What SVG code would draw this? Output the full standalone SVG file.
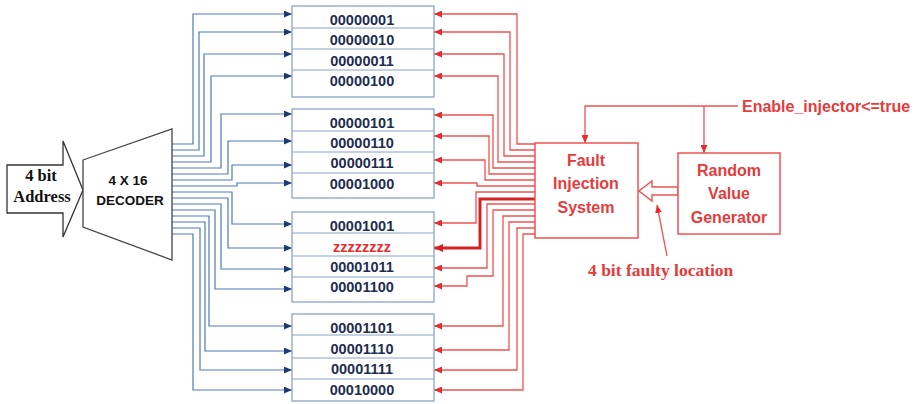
<svg xmlns="http://www.w3.org/2000/svg" width="918" height="404" viewBox="0 0 918 404">
<style>
.mem{fill:#fff;stroke:#8aa4cc;stroke-width:1.3}
.sep{stroke:#8aa4cc;stroke-width:1.2}
.val{font-family:"Liberation Sans",Arial,sans-serif;font-weight:bold;font-size:14.5px;fill:#1f2d4e;text-anchor:middle}
.bl{fill:none;stroke:#4f7ab8;stroke-width:1.2;marker-end:url(#ab)}
.rd{fill:none;stroke:#f05252;stroke-width:1.3;marker-end:url(#ar)}
.rdk{fill:none;stroke:#d42222;stroke-width:3;marker-end:url(#ar2)}
.rbox{fill:#fff;stroke:#f05252;stroke-width:1.5}
.rtxt{font-family:"Liberation Sans",Arial,sans-serif;font-weight:bold;font-size:16px;fill:#e63b3b;text-anchor:middle}
.blk{font-family:"Liberation Sans",Arial,sans-serif;font-weight:bold;font-size:13.5px;fill:#111;text-anchor:middle}
.ser{font-family:"Liberation Serif","Times New Roman",serif;font-weight:bold}
</style>
<defs>
<marker id="ab" markerUnits="userSpaceOnUse" markerWidth="8" markerHeight="7" refX="8" refY="3.5" orient="auto"><path d="M0,0 L8,3.5 L0,7 z" fill="#1f3a6e"/></marker>
<marker id="ar" markerUnits="userSpaceOnUse" markerWidth="8" markerHeight="7" refX="8" refY="3.5" orient="auto"><path d="M0,0 L8,3.5 L0,7 z" fill="#e62e2e"/></marker>
<marker id="ar2" markerUnits="userSpaceOnUse" markerWidth="9" markerHeight="8" refX="9" refY="4" orient="auto"><path d="M0,0 L9,4 L0,8 z" fill="#d42222"/></marker>
</defs>
<rect width="918" height="404" fill="#fff"/>

<g id="connectors">
<g id="blue">
<path class="bl" d="M172,144 H193 V14 H292"/>
<path class="bl" d="M172,150 H199 V32 H292"/>
<path class="bl" d="M172,156 H204 V54 H292"/>
<path class="bl" d="M172,162 H211 V76 H292"/>
<path class="bl" d="M172,168 H221 V114 H292"/>
<path class="bl" d="M172,174 H228 V141 H292"/>
<path class="bl" d="M172,180 H232 V165 H292"/>
<path class="bl" d="M172,186 H237 V183 H292"/>
<path class="bl" d="M172,192 H232 V224 H292"/>
<path class="bl" d="M172,198 H228 V248 H292"/>
<path class="bl" d="M172,204 H221 V269 H292"/>
<path class="bl" d="M172,210 H215 V289 H292"/>
<path class="bl" d="M172,216 H209 V326 H292"/>
<path class="bl" d="M172,222 H205 V351 H292"/>
<path class="bl" d="M172,228 H200 V370 H292"/>
<path class="bl" d="M172,234 H193 V390 H292"/>
</g>
<g id="red">
<path class="rd" d="M535,144 H517 V14 H434"/>
<path class="rd" d="M535,150 H510 V32 H434"/>
<path class="rd" d="M535,156 H504 V54 H434"/>
<path class="rd" d="M535,162 H498 V76 H434"/>
<path class="rd" d="M535,168 H493 V115 H434"/>
<path class="rd" d="M535,174 H489 V136 H434"/>
<path class="rd" d="M535,180 H485 V160 H434"/>
<path class="rd" d="M535,186 H477 V183 H434"/>
<path class="rd" d="M535,192 H476 V223 H434"/>
<path class="rdk" d="M535,199 H480 V248 H434"/>
<path class="rd" d="M535,204 H487 V268 H434"/>
<path class="rd" d="M535,210 H493 V276 H467 V286 H434"/>
<path class="rd" d="M535,216 H503 V326 H434"/>
<path class="rd" d="M535,222 H509 V350 H434"/>
<path class="rd" d="M535,228 H517 V370 H434"/>
<path class="rd" d="M535,234 H523 V390 H434"/>
<path class="rd" d="M738,106 H585 V143"/>
<path class="rd" d="M704,106 V153"/>
<path class="rd" d="M667,256 L657,205"/>
</g>
<polygon id="faulty-bus" points="678,187 652,187 652,181 639,191 652,201 652,195 678,195" fill="#fff" stroke="#f05252" stroke-width="1.4"/>
</g>

<g id="address">
<polygon points="7,165 63,165 63,141 83,190 63,237 63,213 7,213" fill="#fff" stroke="#333" stroke-width="1.3"/>
<text class="ser" x="41" y="181" font-size="16.5" text-anchor="middle" fill="#111">4 bit</text>
<text class="ser" x="42" y="202" font-size="16.5" text-anchor="middle" fill="#111">Address</text>
</g>

<g id="decoder">
<polygon points="83,160 172,129 172,260 83,227" fill="#fff" stroke="#444" stroke-width="1.3"/>
<text class="blk" x="128" y="185">4 X 16</text>
<text class="blk" x="130" y="205">DECODER</text>
</g>

<g id="mem1">
<rect class="mem" x="292" y="6" width="142" height="91"/>
<line class="sep" x1="292" y1="28" x2="434" y2="28"/>
<line class="sep" x1="292" y1="49" x2="434" y2="49"/>
<line class="sep" x1="292" y1="70" x2="434" y2="70"/>
<text class="val" x="362" y="25">00000001</text>
<text class="val" x="362" y="45">00000010</text>
<text class="val" x="362" y="66">00000011</text>
<text class="val" x="362" y="86">00000100</text>
</g>

<g id="mem2">
<rect class="mem" x="292" y="109" width="142" height="89"/>
<line class="sep" x1="292" y1="131" x2="434" y2="131"/>
<line class="sep" x1="292" y1="152" x2="434" y2="152"/>
<line class="sep" x1="292" y1="173" x2="434" y2="173"/>
<text class="val" x="362" y="128">00000101</text>
<text class="val" x="362" y="148">00000110</text>
<text class="val" x="362" y="168">00000111</text>
<text class="val" x="362" y="189">00001000</text>
</g>

<g id="mem3">
<rect class="mem" x="292" y="212" width="142" height="90"/>
<line class="sep" x1="292" y1="233" x2="434" y2="233"/>
<line class="sep" x1="292" y1="256" x2="434" y2="256"/>
<line class="sep" x1="292" y1="277" x2="434" y2="277"/>
<text class="val" x="362" y="231">00001001</text>
<text class="val" x="362" y="252" fill="#e62e2e" style="fill:#e62e2e">zzzzzzzz</text>
<text class="val" x="362" y="272">00001011</text>
<text class="val" x="362" y="292">00001100</text>
</g>

<g id="mem4">
<rect class="mem" x="292" y="314" width="142" height="87"/>
<line class="sep" x1="292" y1="335" x2="434" y2="335"/>
<line class="sep" x1="292" y1="358" x2="434" y2="358"/>
<line class="sep" x1="292" y1="379" x2="434" y2="379"/>
<text class="val" x="362" y="333">00001101</text>
<text class="val" x="362" y="354">00001110</text>
<text class="val" x="362" y="374">00001111</text>
<text class="val" x="362" y="395">00010000</text>
</g>

<g id="fis">
<rect class="rbox" x="535" y="143" width="103" height="95"/>
<text class="rtxt" x="586" y="166">Fault</text>
<text class="rtxt" x="586" y="189">Injection</text>
<text class="rtxt" x="586" y="213">System</text>
</g>

<g id="rvg">
<rect class="rbox" x="678" y="153" width="102" height="81"/>
<text class="rtxt" x="729" y="176">Random</text>
<text class="rtxt" x="729" y="199">Value</text>
<text class="rtxt" x="729" y="223">Generator</text>
</g>

<text id="enable" class="rtxt" x="742" y="112" text-anchor="start" style="text-anchor:start">Enable_injector&lt;=true</text>
<text id="faulty-label" class="ser" x="588" y="276" font-size="17.5" fill="#e63b3b">4 bit faulty location</text>
</svg>
